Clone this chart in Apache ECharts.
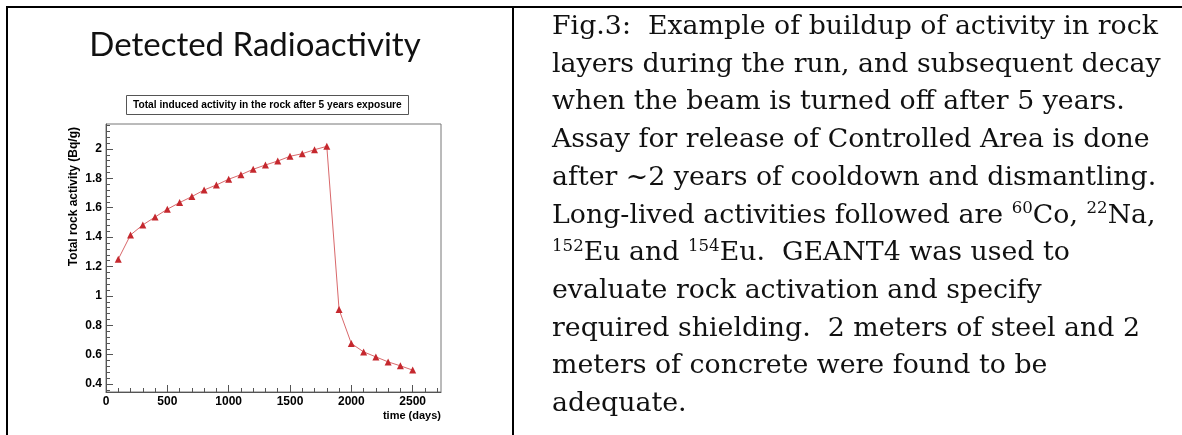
<!DOCTYPE html>
<html>
<head>
<meta charset="utf-8">
<script src="https://cdn.jsdelivr.net/npm/echarts@6/dist/echarts.min.js"></script>
<style>
  html, body { margin: 0; padding: 0; background: #fff; }
  #wrap { position: relative; width: 1182px; height: 435px; overflow: hidden; background: #fff; }
  #chart { position: absolute; left: 0; top: 0; width: 1182px; height: 435px; }
  .line { position: absolute; background: #000; }
  #slideTitle { position: absolute; left: 7px; width: 496px; top: 27px; text-align: center; line-height: 33px;
    font-family: Lato, "Open Sans", sans-serif; font-size: 33px; color: #111; }
  #caption { position: absolute; left: 552px; top: 6px; font-family: "DejaVu Serif", serif;
    font-size: 26.8px; line-height: 37.7px; color: #111; white-space: nowrap; }
  #caption sup { font-size: 0.62em; vertical-align: 0; position: relative; top: -0.55em; line-height: 0; }
</style>
</head>
<body>
<div id="wrap">
  <div id="chart"></div>
  <div class="line" style="left:6px; top:6px; width:1176px; height:2px;"></div>
  <div class="line" style="left:6px; top:6px; width:2px; height:429px;"></div>
  <div class="line" style="left:512px; top:6px; width:2px; height:429px;"></div>
  <div id="slideTitle">Detected Radioactivity</div>
  <div id="caption">Fig.3:&nbsp; Example of buildup of activity in rock<br>layers during the run, and subsequent decay<br>when the beam is turned off after 5 years.<br>Assay for release of Controlled Area is done<br>after ~2 years of cooldown and dismantling.<br>Long-lived activities followed are <sup>60</sup>Co, <sup>22</sup>Na,<br><sup>152</sup>Eu and <sup>154</sup>Eu.&nbsp; GEANT4 was used to<br>evaluate rock activation and specify<br>required shielding.&nbsp; 2 meters of steel and 2<br>meters of concrete were found to be<br>adequate.</div>
</div>
<script>
// ---- data ----
const timeDays = [100, 200, 300, 400, 500, 600, 700, 800, 900, 1000, 1100, 1200, 1300, 1400, 1500, 1600, 1700, 1800, 1900, 2000, 2100, 2200, 2300, 2400, 2500];
const activity = [1.25, 1.415, 1.483, 1.537, 1.59, 1.635, 1.676, 1.721, 1.755, 1.794, 1.825, 1.862, 1.891, 1.918, 1.95, 1.968, 1.995, 2.018, 0.907, 0.676, 0.619, 0.585, 0.551, 0.524, 0.495];
const xMajorTicks = [0, 500, 1000, 1500, 2000, 2500];
const yMajorTicks = [0.4, 0.6, 0.8, 1.0, 1.2, 1.4, 1.6, 1.8, 2.0];
const chartTitle = 'Total induced activity in the rock after 5 years exposure';
const xName = 'time (days)';
const yName = 'Total rock activity (Bq/g)';

const X_MIN = 0, X_MAX = 2731, Y_MIN = 0.346, Y_MAX = 2.17;
const xMinorTicks = [];
for (let v = 100; v < X_MAX; v += 100) xMinorTicks.push(v);
const yMinorTicks = [];
for (let k = 9; k * 0.04 < Y_MAX; k++) yMinorTicks.push(+(k * 0.04).toFixed(2));

const axisGrey = '#555';
const labelFont = { fontFamily: 'Liberation Sans, Arial, sans-serif', fontWeight: 'bold', fontSize: 12, color: '#000' };

const chart = echarts.init(document.getElementById('chart'), null, { renderer: 'canvas' });
const GRID = { left: 106, top: 124, width: 335, height: 268 };

chart.setOption({
  animation: false,
  title: {
    text: chartTitle,
    left: 126, top: 95,
    padding: [4, 7, 4, 7],
    borderColor: '#555', borderWidth: 1,
    textStyle: { fontFamily: 'Liberation Sans, Arial, sans-serif', fontWeight: 'bold', fontSize: 10.2, color: '#000', lineHeight: 12 }
  },
  grid: Object.assign({ show: true, borderColor: '#777', borderWidth: 1, backgroundColor: '#fff' }, GRID),
  xAxis: [{
    type: 'value', min: X_MIN, max: X_MAX, position: 'bottom',
    axisLine: { show: true, lineStyle: { color: axisGrey, width: 1 } },
    axisTick: { show: true, inside: true, length: 7, customValues: xMajorTicks, lineStyle: { color: axisGrey } },
    axisLabel: Object.assign({ customValues: xMajorTicks, margin: 4, formatter: v => String(v) }, labelFont),
    splitLine: { show: false }
  }, {
    type: 'value', min: X_MIN, max: X_MAX, position: 'bottom',
    axisLine: { show: false },
    axisTick: { show: true, inside: true, length: 4, customValues: xMinorTicks, lineStyle: { color: axisGrey } },
    axisLabel: { show: false },
    splitLine: { show: false }
  }],
  yAxis: [{
    type: 'value', min: Y_MIN, max: Y_MAX, position: 'left',
    axisLine: { show: true, lineStyle: { color: axisGrey, width: 1 } },
    axisTick: { show: true, inside: true, length: 7, customValues: yMajorTicks, lineStyle: { color: axisGrey } },
    axisLabel: Object.assign({ customValues: yMajorTicks, margin: 4, formatter: v => String(+v.toFixed(1)) }, labelFont),
    splitLine: { show: false }
  }, {
    type: 'value', min: Y_MIN, max: Y_MAX, position: 'left',
    axisLine: { show: false },
    axisTick: { show: true, inside: true, length: 4, customValues: yMinorTicks, lineStyle: { color: axisGrey } },
    axisLabel: { show: false },
    splitLine: { show: false }
  }],
  graphic: [
    { type: 'text', right: 1182 - 441, top: 410,
      style: { text: xName, font: 'bold 11px "Liberation Sans", Arial, sans-serif', fill: '#000' } },
    { type: 'text', x: 74, y: 127, rotation: Math.PI / 2,
      style: { text: yName, font: 'bold 12px "Liberation Sans", Arial, sans-serif', fill: '#000', align: 'right', verticalAlign: 'middle' } }
  ],
  series: [{
    type: 'line',
    xAxisIndex: 0, yAxisIndex: 0,
    data: timeDays.map((t, i) => [t, activity[i]]),
    symbol: 'triangle', symbolSize: 7, showSymbol: true,
    lineStyle: { color: '#d9686b', width: 1 },
    itemStyle: { color: '#c5282e', borderWidth: 0 },
    z: 3
  }]
});
</script>
</body>
</html>
